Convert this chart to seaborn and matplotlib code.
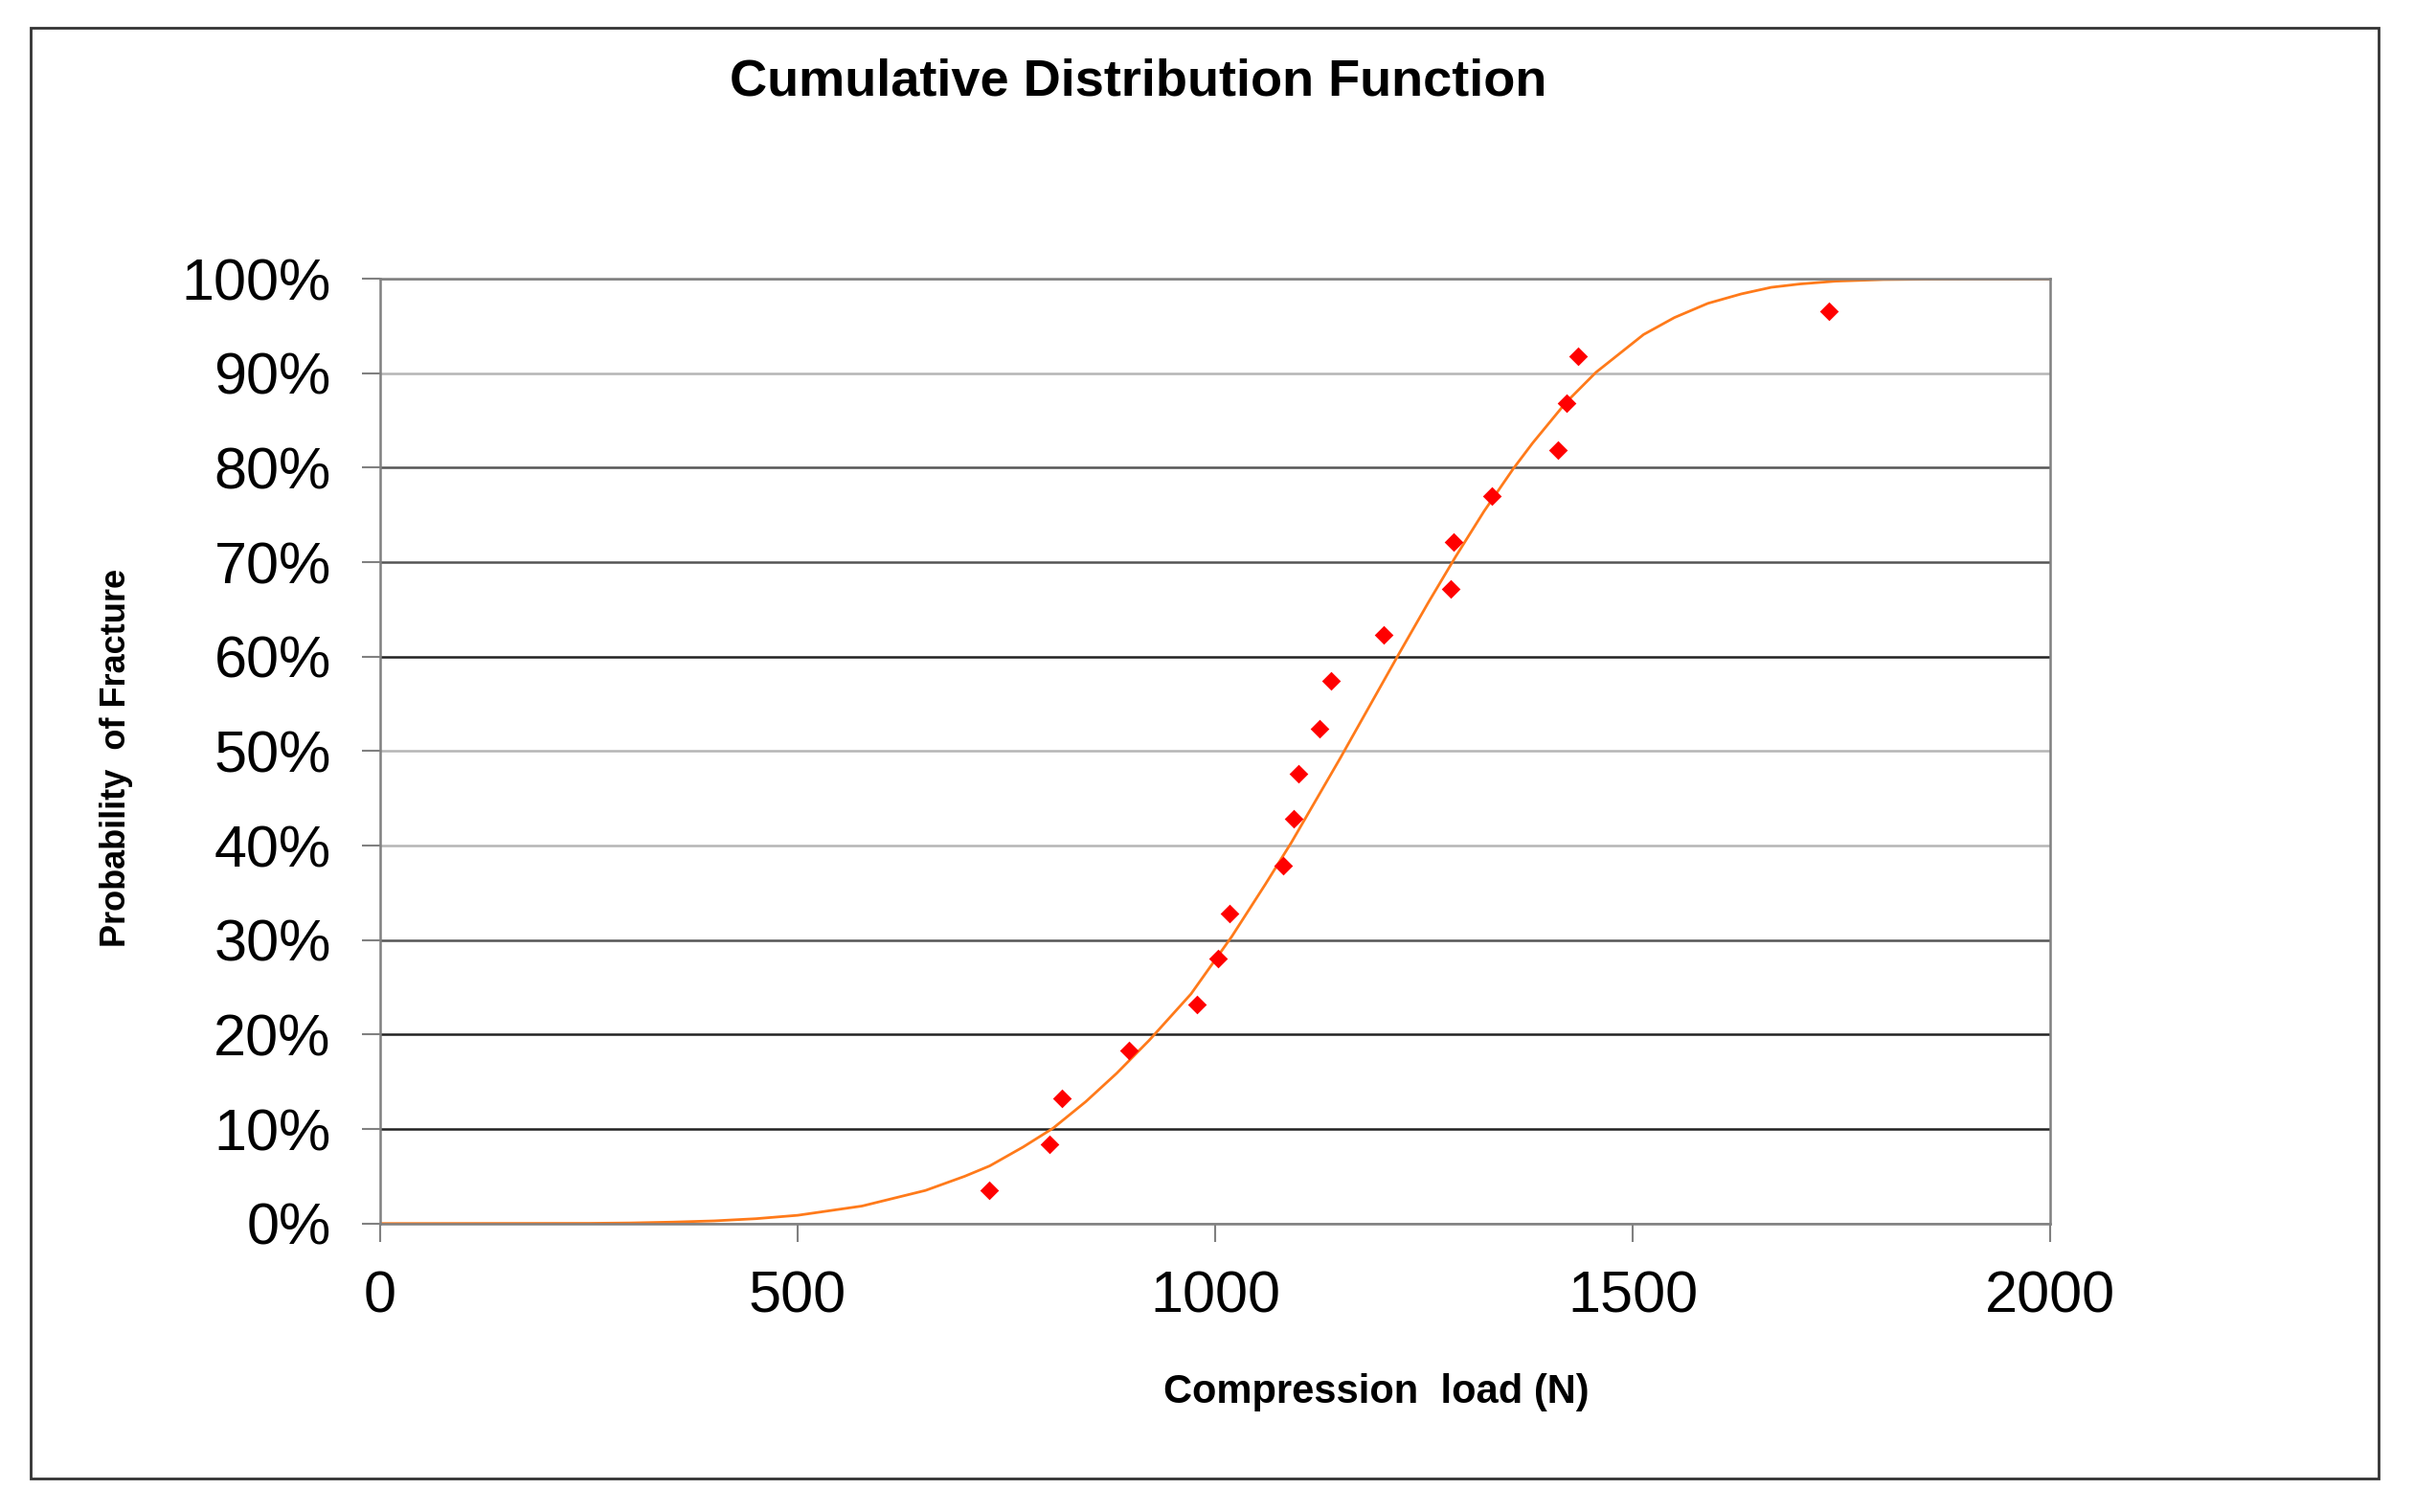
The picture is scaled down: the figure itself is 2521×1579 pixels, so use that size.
import pandas as pd
import numpy as np
import seaborn as sns
import matplotlib.pyplot as plt
from matplotlib.ticker import PercentFormatter
from matplotlib.patches import Rectangle

# measured fracture loads (N) and their probability of fracture (%)
load_n = [729, 801, 817, 897, 978, 1003, 1017, 1081, 1094, 1100,
          1125, 1139, 1202, 1282, 1285, 1331, 1411, 1421, 1434, 1735]
prob_pct = [3.5, 8.4, 13.3, 18.3, 23.2, 28.0, 32.8, 37.9, 42.8, 47.6,
            52.4, 57.4, 62.3, 67.2, 72.1, 77.0, 81.9, 86.8, 91.8, 96.6]

# fitted CDF curve
curve_load = [0, 250, 300, 350, 400, 450, 500, 577, 653, 700, 730, 770, 806, 845,
              882, 921, 971, 1020, 1060, 1091, 1112, 1150, 1185, 1220, 1255, 1288,
              1322, 1357, 1380, 1420, 1456, 1513, 1550, 1590, 1630, 1666, 1700,
              1743, 1800, 1900, 2000]
curve_pct = [0, 0.02, 0.06, 0.15, 0.28, 0.51, 0.87, 1.85, 3.5, 5.0, 6.1, 8.1, 10.1, 12.9,
             15.9, 19.4, 24.3, 30.4, 35.9, 40.3, 43.5, 49.3, 54.8, 60.3, 65.7, 70.6,
             75.4, 79.9, 82.6, 86.9, 90.1, 94.1, 95.9, 97.4, 98.4, 99.1, 99.45,
             99.75, 99.92, 99.99, 100]

x_ticks = [0, 500, 1000, 1500, 2000]
y_ticks = [0, 10, 20, 30, 40, 50, 60, 70, 80, 90, 100]

points = pd.DataFrame({'load': load_n, 'prob': prob_pct})
curve = pd.DataFrame({'load': curve_load, 'prob': curve_pct})

sns.set_theme(style='white')
plt.rcParams['font.family'] = ['Liberation Sans', 'DejaVu Sans']
plt.rcParams['text.color'] = 'black'

fig = plt.figure(figsize=(25.21, 15.79), dpi=100)
ax = fig.add_axes([0.1575, 0.1908, 0.6918, 0.6248])

# gridlines drawn behind the data, shades as they show in the original image
grid_cols = ['#808080', '#222222', '#222222', '#555555', '#b5b5b5', '#b5b5b5',
             '#222222', '#555555', '#555555', '#b5b5b5', '#808080']
for yv, c in zip(y_ticks, grid_cols):
    ax.axhline(yv, color=c, lw=1.8, zorder=0)

sns.lineplot(data=curve, x='load', y='prob', ax=ax, color='#ff7a1a', lw=2.0,
             sort=False, zorder=2)
sns.scatterplot(data=points, x='load', y='prob', ax=ax, marker='D', s=100,
                color='#ff0000', linewidth=0, zorder=3)

ax.set_xlim(0, 2000)
ax.set_ylim(0, 100)
ax.set_xticks(x_ticks)
ax.set_yticks(y_ticks)
ax.yaxis.set_major_formatter(PercentFormatter(decimals=0))
ax.set_xlabel('')
ax.set_ylabel('')
ax.tick_params(axis='both', which='major', direction='out', length=14, width=1.5,
               color='#808080', labelsize=44, labelcolor='#000000',
               bottom=True, left=True)
ax.tick_params(axis='y', pad=23)
ax.tick_params(axis='x', pad=21)

for side in ['left', 'right', 'bottom', 'top']:
    ax.spines[side].set_color('#808080')
    ax.spines[side].set_linewidth(1.8)

fig.text(0.4717, 0.946, 'Cumulative Distribution Function', ha='center', va='center',
         fontsize=39, fontweight='bold', color='black')
fig.text(0.570, 0.079, 'Compression  load (N)', ha='center', va='center',
         fontsize=30, fontweight='bold', color='black')
fig.text(0.048, 0.499, 'Probability  of Fracture', ha='center', va='center',
         rotation=90, fontsize=26, fontweight='bold', color='black')

# outer chart border
fig.patches.append(Rectangle((0.0127, 0.0224), 0.9728, 0.9592, transform=fig.transFigure,
                             fill=False, edgecolor='#333333', lw=2))

fig.savefig('out.png', dpi=100, facecolor='white')
